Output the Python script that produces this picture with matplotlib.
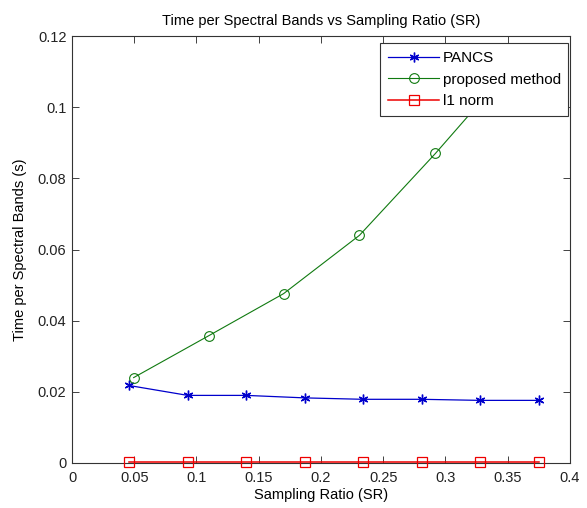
import matplotlib
matplotlib.use("Agg")
import matplotlib.pyplot as plt

plt.rcParams['font.family'] = ['Liberation Sans', 'DejaVu Sans']

sr_pancs = [0.0455, 0.093, 0.140, 0.187, 0.234, 0.281, 0.328, 0.375]
t_pancs = [0.0218, 0.0190, 0.0190, 0.0183, 0.0179, 0.0179, 0.0176, 0.0176]
sr_prop = [0.0495, 0.110, 0.170, 0.231, 0.292, 0.352]
t_prop = [0.0240, 0.0358, 0.0476, 0.0640, 0.0870, 0.1110]
sr_l1 = [0.0455, 0.093, 0.140, 0.187, 0.234, 0.281, 0.328, 0.375]
t_l1 = [0.0004, 0.0004, 0.0004, 0.0004, 0.0004, 0.0004, 0.0004, 0.0004]

xticks = [0, 0.05, 0.1, 0.15, 0.2, 0.25, 0.3, 0.35, 0.4]
xticklabels = ['0', '0.05', '0.1', '0.15', '0.2', '0.25', '0.3', '0.35', '0.4']
yticks = [0, 0.02, 0.04, 0.06, 0.08, 0.1, 0.12]
yticklabels = ['0', '0.02', '0.04', '0.06', '0.08', '0.1', '0.12']

fig = plt.figure(figsize=(5.87, 5.08), dpi=100)
ax = fig.add_axes([0.1227, 0.0886, 0.848, 0.8404])

ax.plot(sr_pancs, t_pancs, color='#0000cc', lw=0.9, marker=(6, 2, 0), ms=7,
        markeredgewidth=1.0, label='PANCS')
ax.plot(sr_prop, t_prop, color='#107a10', lw=0.8, marker='o', ms=7,
        markerfacecolor='none', markeredgewidth=0.8, label='proposed method')
ax.plot(sr_l1, t_l1, color='#ee0000', lw=1.1, marker='s', ms=7,
        markerfacecolor='none', markeredgewidth=0.9, label='l1 norm',
        clip_on=False, zorder=3)

ax.set_xlim(0, 0.4)
ax.set_ylim(0, 0.12)
ax.set_xticks(xticks)
ax.set_xticklabels(xticklabels)
ax.set_yticks(yticks)
ax.set_yticklabels(yticklabels)
ax.tick_params(direction='in', length=5, width=0.6, top=True, right=True,
               labelsize=10.5, colors='#222222', pad=4)
ax.tick_params(axis='x', pad=6)
for s in ax.spines.values():
    s.set_linewidth(0.8)
    s.set_color('#333333')

ax.set_xlabel('Sampling Ratio (SR)', fontsize=10.5, labelpad=2)
ax.set_ylabel('Time per Spectral Bands (s)', fontsize=10.5, labelpad=8)
ax.set_title('Time per Spectral Bands vs Sampling Ratio (SR)', fontsize=10.5, pad=8)

leg = ax.legend(loc='upper right', bbox_to_anchor=(0.997, 0.983), fontsize=11,
                fancybox=False, framealpha=1, edgecolor='#333333',
                handlelength=3.4, borderpad=0.5, labelspacing=0.5,
                handletextpad=0.2, borderaxespad=0)
leg.get_frame().set_linewidth(0.8)

fig.savefig('out.png', dpi=100)
